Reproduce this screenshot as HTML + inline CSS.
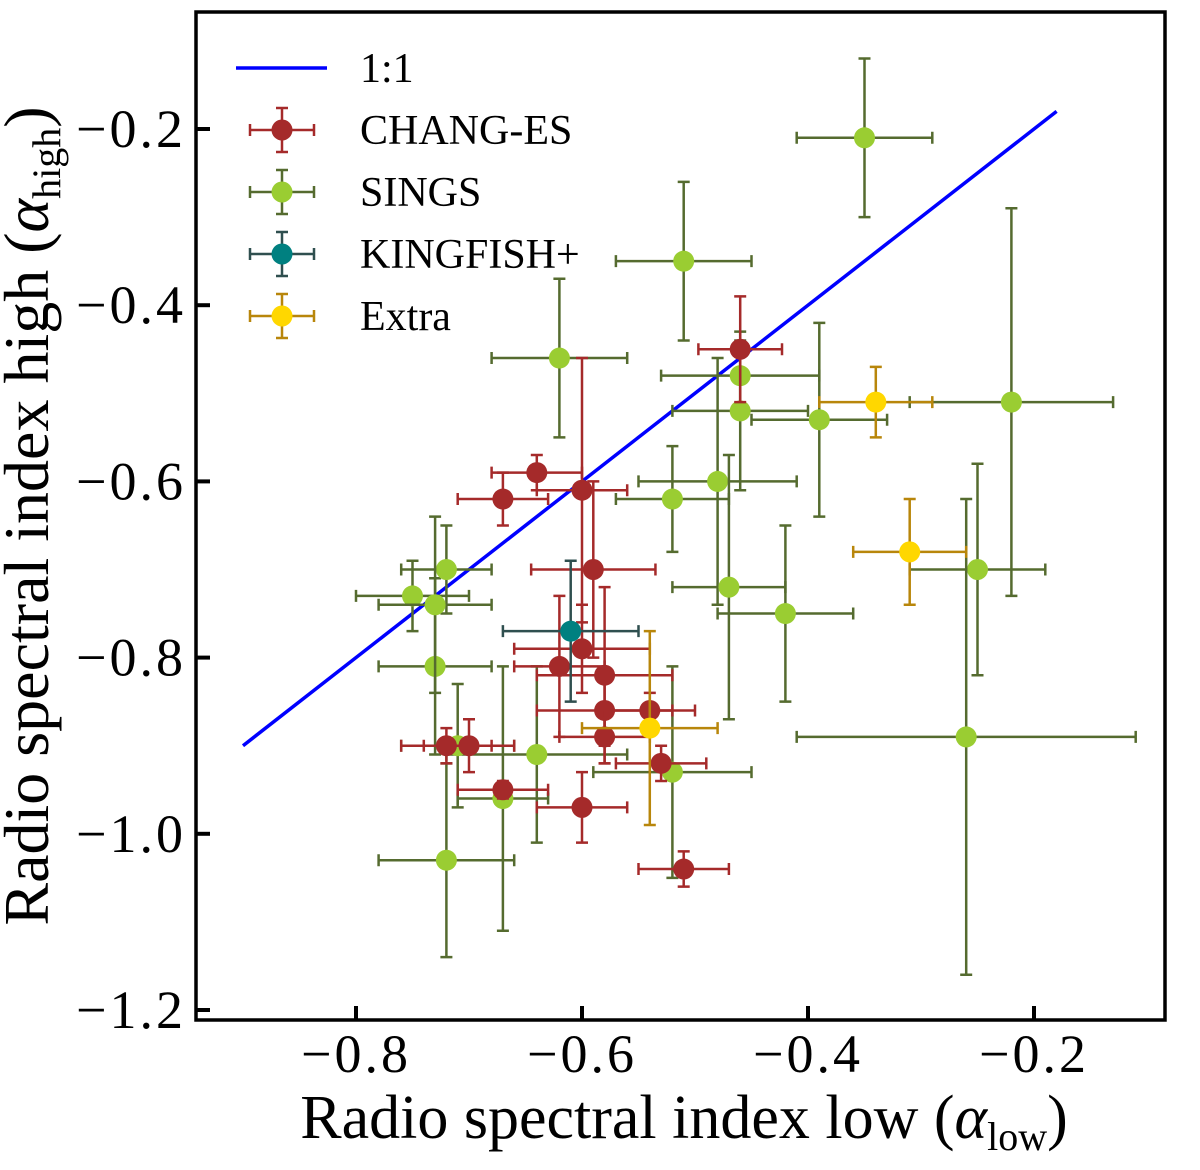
<!DOCTYPE html>
<html><head><meta charset="utf-8"><style>
body{margin:0;background:#fff}
svg text{font-family:"Liberation Serif",serif;fill:#000}
</style></head><body>
<svg id="chart" width="1200" height="1165" xmlns="http://www.w3.org/2000/svg">
<g id="marks"></g>
<rect x="196" y="12" width="969" height="1008" fill="none" stroke="#000" stroke-width="3.5"/>
<g id="axes"></g>
<text x="684" y="1138" font-size="62" text-anchor="middle">Radio spectral index low (<tspan font-style="italic">α</tspan><tspan font-size="40" dy="12">low</tspan><tspan dy="-12">)</tspan></text>
<text transform="translate(48,516) rotate(-90)" font-size="64" text-anchor="middle">Radio spectral index high (<tspan font-style="italic">α</tspan><tspan font-size="40" dy="12">high</tspan><tspan dy="-12">)</tspan></text>
<g id="legend"></g>
</svg>
<script>
const xTicks=[-0.8,-0.6,-0.4,-0.2];
const yTicks=[-0.2,-0.4,-0.6,-0.8,-1.0,-1.2];
const changX=[-0.46,-0.64,-0.67,-0.60,-0.59,-0.60,-0.62,-0.58,-0.58,-0.58,-0.54,-0.53,-0.60,-0.51,-0.72,-0.70,-0.67];
const changY=[-0.45,-0.59,-0.62,-0.61,-0.70,-0.79,-0.81,-0.82,-0.86,-0.89,-0.86,-0.92,-0.97,-1.04,-0.90,-0.90,-0.95];
const changXe=[0.037,0.04,0.04,0.04,0.055,0.06,0.04,0.06,0.06,0.04,0.04,0.04,0.04,0.04,0.04,0.04,0.04];
const changYe=[0.06,0.02,0.03,0.15,0.1,0.05,0.08,0.1,0.04,0.03,0.02,0.02,0.04,0.02,0.02,0.03,0.01];
const singsX=[-0.35,-0.51,-0.62,-0.46,-0.46,-0.39,-0.22,-0.52,-0.48,-0.47,-0.42,-0.25,-0.26,-0.52,-0.64,-0.67,-0.72,-0.71,-0.73,-0.72,-0.75,-0.73];
const singsY=[-0.21,-0.35,-0.46,-0.48,-0.52,-0.53,-0.51,-0.62,-0.60,-0.72,-0.75,-0.70,-0.89,-0.93,-0.91,-0.96,-1.03,-0.90,-0.81,-0.70,-0.73,-0.74];
const singsXe=[0.06,0.06,0.06,0.07,0.06,0.06,0.09,0.05,0.07,0.05,0.06,0.06,0.15,0.07,0.08,0.04,0.06,0.05,0.05,0.04,0.05,0.05];
const singsYe=[0.09,0.09,0.09,0.04,0.09,0.11,0.22,0.06,0.14,0.15,0.1,0.12,0.27,0.12,0.1,0.15,0.11,0.07,0.1,0.05,0.04,0.1];
const kingX=[-0.61], kingY=[-0.77], kingXe=[0.06], kingYe=[0.08];
const extraX=[-0.34,-0.31,-0.54], extraY=[-0.51,-0.68,-0.88], extraXe=[0.05,0.05,0.06], extraYe=[0.04,0.06,0.11];
const lineXY=[-0.9,-0.18];

const NS="http://www.w3.org/2000/svg";
function sx(v){return 356+(v+0.8)*1130;}
function sy(v){return 129-(v+0.2)*881;}
function mk(tag,attrs,parent){const e=document.createElementNS(NS,tag);for(const k in attrs)e.setAttribute(k,attrs[k]);parent.appendChild(e);return e;}
const marks=document.getElementById('marks'),axes=document.getElementById('axes'),legend=document.getElementById('legend');

const l=mk('line',{x1:sx(lineXY[0]),y1:sy(lineXY[0]),x2:sx(lineXY[1]),y2:sy(lineXY[1]),stroke:'#0000ff','stroke-width':3.5},marks);



function series(xs,ys,xe,ye,ecol,fcol,name){
  const g=mk('g',{},marks);
  
  
  xs.forEach((x,i)=>{
    const cx=sx(x),cy=sy(ys[i]);
    const x1=sx(x-xe[i]),x2=sx(x+xe[i]),y1=sy(ys[i]+ye[i]),y2=sy(ys[i]-ye[i]);
    const e=mk('path',{d:`M${x1},${cy}H${x2}M${cx},${y1}V${y2}M${x1},${cy-6}v12M${x2},${cy-6}v12M${cx-6},${y1}h12M${cx-6},${y2}h12`,stroke:ecol,'stroke-width':2.5,fill:'none'},g);
    
    
    const c=mk('circle',{cx:cx,cy:cy,r:10.5,fill:fcol},g);
    
    
  });
}
series(singsX,singsY,singsXe,singsYe,'#556b2f','#9acd32','sings');
series(changX,changY,changXe,changYe,'#a52a2a','#a52a2a','chang-es');
series(kingX,kingY,kingXe,kingYe,'#2f4f4f','#008080','kingfish');
series(extraX,extraY,extraXe,extraYe,'#b8860b','#ffd700','extra');

xTicks.forEach(v=>{
  const t=mk('line',{x1:sx(v),x2:sx(v),y1:1020,y2:1006,stroke:'#000','stroke-width':4},axes);
  
  
  const tx=mk('text',{x:sx(v),y:1072,'font-size':54,'text-anchor':'middle','letter-spacing':3},axes);
  tx.textContent='−'+Math.abs(v).toFixed(1);
  
  
});
yTicks.forEach(v=>{
  const t=mk('line',{x1:196,x2:210,y1:sy(v),y2:sy(v),stroke:'#000','stroke-width':4},axes);
  
  
  const tx=mk('text',{x:186,y:sy(v)+18,'font-size':54,'text-anchor':'end','letter-spacing':3},axes);
  tx.textContent='−'+Math.abs(v).toFixed(1);
  
  
});

const legItems=[['1:1',null,null,68],['CHANG-ES','#a52a2a','#a52a2a',130],['SINGS','#556b2f','#9acd32',192],['KINGFISH+','#2f4f4f','#008080',254],['Extra','#b8860b','#ffd700',316]];
legItems.forEach(it=>{
  const g=mk('g',{},legend);
  
  
  const y=it[3];
  if(!it[1]){mk('line',{x1:236,x2:327,y1:y,y2:y,stroke:'#0000ff','stroke-width':3.5},g);}
  else{
    mk('path',{d:`M250,${y}H314M282,${y-22}V${y+22}M250,${y-6}v12M314,${y-6}v12M276,${y-22}h12M276,${y+22}h12`,stroke:it[1],'stroke-width':2.5,fill:'none'},g);
    mk('circle',{cx:282,cy:y,r:10.5,fill:it[2]},g);
  }
  const tx=mk('text',{x:360,y:y+14,'font-size':42},g);
  tx.textContent=it[0];
});
</script>
</body></html>
